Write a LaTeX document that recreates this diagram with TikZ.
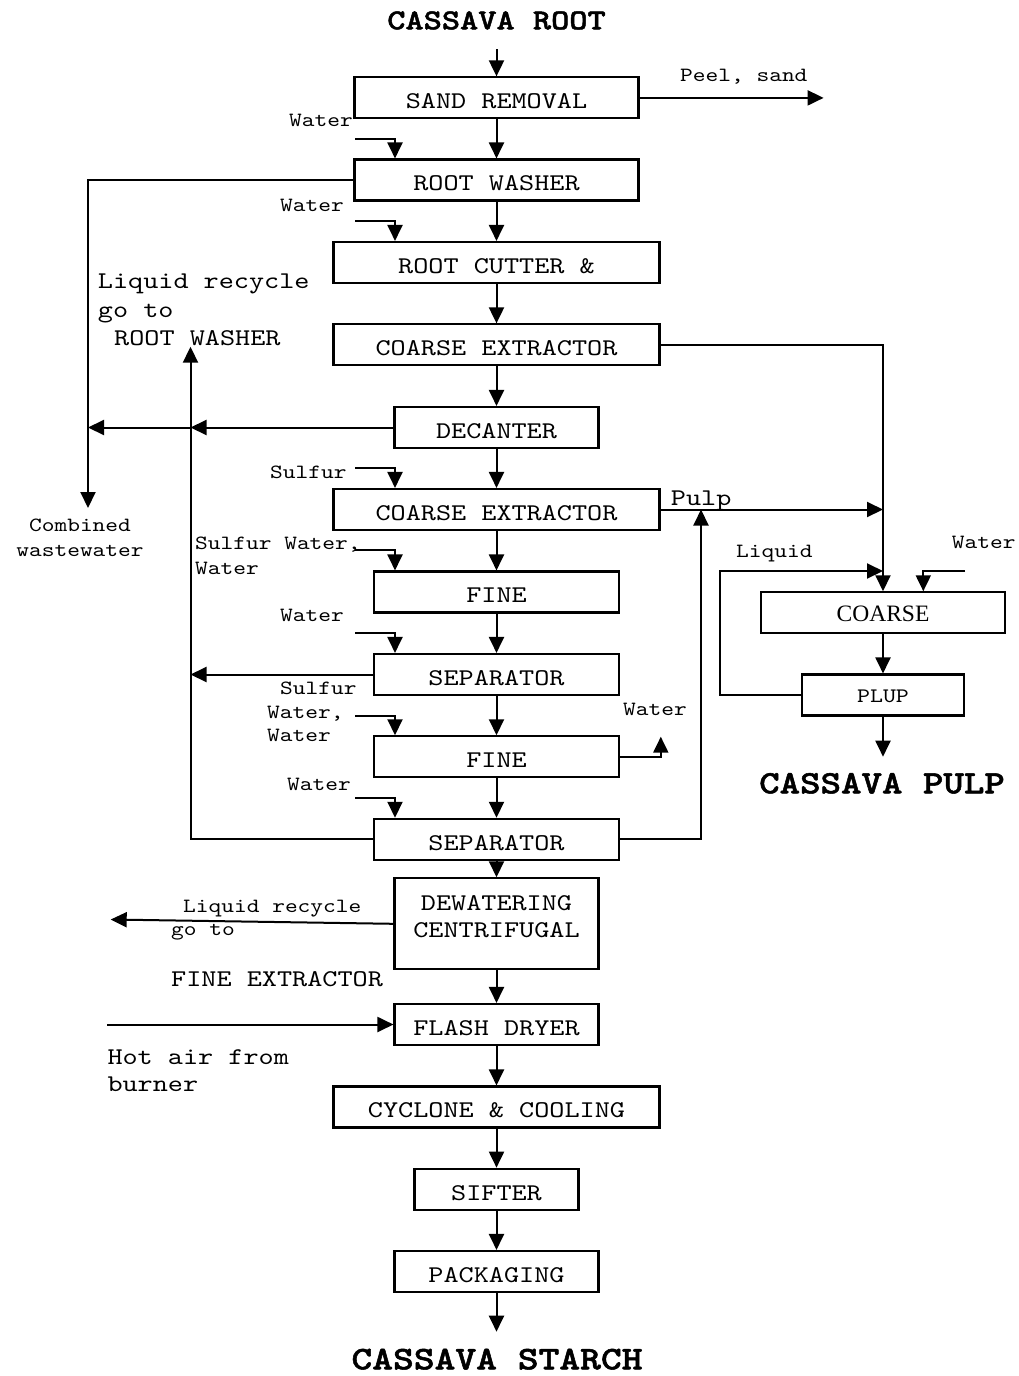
\documentclass[tikz,border=0pt]{standalone}
\usepackage{fontspec}
\usetikzlibrary{arrows.meta}
\newfontfamily\cour{lmmono10-regular.otf}[FakeStretch=1.2]
\newfontfamily\courb{lmmonolt10-bold.otf}[FakeStretch=1.2, FakeBold=1.6]
\newfontfamily\tms{Liberation Serif}
\begin{document}
\begin{tikzpicture}[x=1pt,y=-1pt,
  box/.style={draw, line width=2.1pt, inner sep=0pt, minimum height=41pt,
              text height=21.7pt, text depth=0pt, font=\fontsize{24}{28}\cour},
  arr/.style={line width=2pt, -{Triangle[length=16pt,width=15pt]}},
  sm/.style={inner sep=0pt, anchor=base west, font=\fontsize{20.2}{24}\cour},
  md/.style={inner sep=0pt, anchor=base west, font=\fontsize{24}{28}\cour},
  ttl/.style={inner sep=0pt, anchor=base},
]
\fill[white] (0,0) rectangle (1018,1376);
\useasboundingbox (0,0) rectangle (1018,1376);

% ---- main column boxes
\node[box, minimum width=284pt] (sr) at (496.5,97.9) {SAND REMOVAL};
\node[box, minimum width=284pt] (rw) at (496.5,180) {ROOT WASHER};
\node[box, minimum width=326pt] (rc) at (496.5,262.5) {ROOT CUTTER \&};
\node[box, minimum width=326pt] (ce1) at (496.5,344.9) {COARSE EXTRACTOR};
\node[box, minimum width=204pt] (dec) at (496.5,427.5) {DECANTER};
\node[box, minimum width=326pt] (ce2) at (496.5,509.5) {COARSE EXTRACTOR};
\node[box, minimum width=245pt] (fine) at (496.5,592) {FINE};
\node[box, minimum width=245pt] (sep) at (496.5,674.5) {SEPARATOR};
\node[box, minimum width=245pt] (fine2) at (496.5,756.8) {FINE};
\node[box, minimum width=245pt] (sep2) at (496.5,839.3) {SEPARATOR};
\node[box, minimum width=204pt, minimum height=91pt] (dew) at (496.5,923.8) {};
\node[md, anchor=base] (dewa) at (496.5,910) {DEWATERING};
\node[md, anchor=base] (dewb) at (496.5,937.3) {CENTRIFUGAL};
\node[box, minimum width=204pt] (flash) at (496.5,1024.5) {FLASH DRYER};
\node[box, minimum width=326pt] (cyc) at (496.5,1107) {CYCLONE \& COOLING};
\node[box, minimum width=164pt] (sift) at (496.5,1189.2) {SIFTER};
\node[box, minimum width=204pt] (pack) at (496.5,1271.5) {PACKAGING};

% ---- right column boxes
\node[box, minimum width=244pt, text height=17.9pt, font=\fontsize{23.5}{28}\tms] (coarse) at (883,612.8) {COARSE};
\node[box, minimum width=162.6pt, text height=15.4pt, font=\fontsize{20.6}{24}\cour] (plup) at (883,695) {PLUP};

% ---- coordinates
\coordinate (inx) at (395,0);
\coordinate (inr) at (923.3,0);
\coordinate (top) at (496.5,49);
\coordinate (peel) at (823.6,97.9);
\coordinate (w1) at (355,139);
\coordinate (w2) at (355,221);
\coordinate (cw) at (88,508);
\coordinate (s1) at (355,468.3);
\coordinate (w3) at (355,550);
\coordinate (w4) at (355,632.7);
\coordinate (w5) at (355,715.7);
\coordinate (w6) at (355,797.7);
\coordinate (j1) at (190.5,427.5);
\coordinate (j2) at (88,427.5);
\coordinate (rwup) at (190.5,346.7);
\coordinate (sepl) at (190.5,674.5);
\coordinate (pj) at (701,509.5);
\coordinate (fw) at (660.8,736.7);
\coordinate (lqa) at (720,571);
\coordinate (lqb) at (883,571);
\coordinate (wr) at (965,571);
\coordinate (pulpout) at (883,756.7);
\coordinate (lr) at (110.7,919.5);
\coordinate (hot) at (107.3,1024.5);
\coordinate (bot) at (496.5,1331.7);

% ---- main flow
\draw[arr] (top) -- (sr.north);
\draw[arr] (sr.east) -- (peel);
\draw[arr] (sr) -- (rw);
\draw[arr] (rw) -- (rc);
\draw[arr] (rc) -- (ce1);
\draw[arr] (ce1) -- (dec);
\draw[arr] (dec) -- (ce2);
\draw[arr] (ce2) -- (fine);
\draw[arr] (fine) -- (sep);
\draw[arr] (sep) -- (fine2);
\draw[arr] (fine2) -- (sep2);
\draw[arr] (sep2) -- (dew);
\draw[arr] (dew) -- (flash);
\draw[arr] (flash) -- (cyc);
\draw[arr] (cyc) -- (sift);
\draw[arr] (sift) -- (pack);
\draw[arr] (pack) -- (bot);

% ---- inlets
\draw[arr] (w1) -| (inx |- rw.north);
\draw[arr] (w2) -| (inx |- rc.north);
\draw[arr] (s1) -| (inx |- ce2.north);
\draw[arr] (w3) -| (inx |- fine.north);
\draw[arr] (w4) -| (inx |- sep.north);
\draw[arr] (w5) -| (inx |- fine2.north);
\draw[arr] (w6) -| (inx |- sep2.north);

% ---- left recycle lines
\draw[arr] (rw.west) -| (cw);
\draw[arr] (dec.west) -- (j1);
\draw[arr] (j1) -- (j2);
\draw[arr] (sep2.west) -| (rwup);
\draw[arr] (sep.west) -- (sepl);
\draw[arr] (dew.west) -- (lr);
\draw[arr] (hot) -- (flash.west);

% ---- right side
\draw[arr] (ce1.east) -| (coarse.north);
\draw[arr] (ce2.east) -- (ce2.east -| coarse.north);
\draw[arr] (sep2.east) -| (pj);
\draw[arr] (fine2.east) -| (fw);
\draw[arr] (plup.west) -| (lqa) -- (lqb);
\draw[arr] (wr) -| (inr |- coarse.north);
\draw[arr] (coarse) -- (plup);
\draw[arr] (plup) -- (pulpout);

% ---- labels
\node[ttl, font=\fontsize{28.9}{32}\courb] (t1) at (496.5,29.3) {CASSAVA ROOT};
\node[sm] (l1) at (680,81.7) {Peel, sand};
\node[sm] (l2) at (289,126) {Water};
\node[sm] (l3) at (280,211.7) {Water};
\node[md] (l4) at (97.7,288.3) {Liquid recycle};
\node[md] (l5) at (97.7,317.5) {go to};
\node[md] (l6) at (114,345) {ROOT WASHER};
\node[sm, anchor=base] (l7) at (80,531.7) {Combined};
\node[sm, anchor=base] (l8) at (80,556) {wastewater};
\node[sm] (l9) at (270,478) {Sulfur};
\node[md] (l10) at (670.7,505) {Pulp};
\node[sm] (l11) at (195,549.5) {Sulfur Water,};
\node[sm] (l12) at (195,574) {Water};
\node[sm] (l13) at (736,557) {Liquid};
\node[sm] (l14) at (951.7,548) {Water};
\node[sm] (l15) at (280,621.7) {Water};
\node[sm] (l16) at (280,694.3) {Sulfur};
\node[sm] (l17) at (267,718) {Water,};
\node[sm] (l18) at (267,741.7) {Water};
\node[sm] (l19) at (623,715.7) {Water};
\node[sm] (l20) at (287,790) {Water};
\node[ttl, font=\fontsize{32.5}{36}\courb] (t2) at (882,793.3) {CASSAVA PULP};
\node[sm] (l21) at (183,912.3) {Liquid recycle};
\node[sm] (l22) at (171,935) {go to};
\node[md] (l23) at (171,986) {FINE EXTRACTOR};
\node[md] (l24) at (107.3,1064) {Hot air from};
\node[md] (l25) at (107.3,1091.7) {burner};
\node[ttl, font=\fontsize{33}{36}\courb] (t3) at (497,1369.3) {CASSAVA STARCH};
\end{tikzpicture}
\end{document}
